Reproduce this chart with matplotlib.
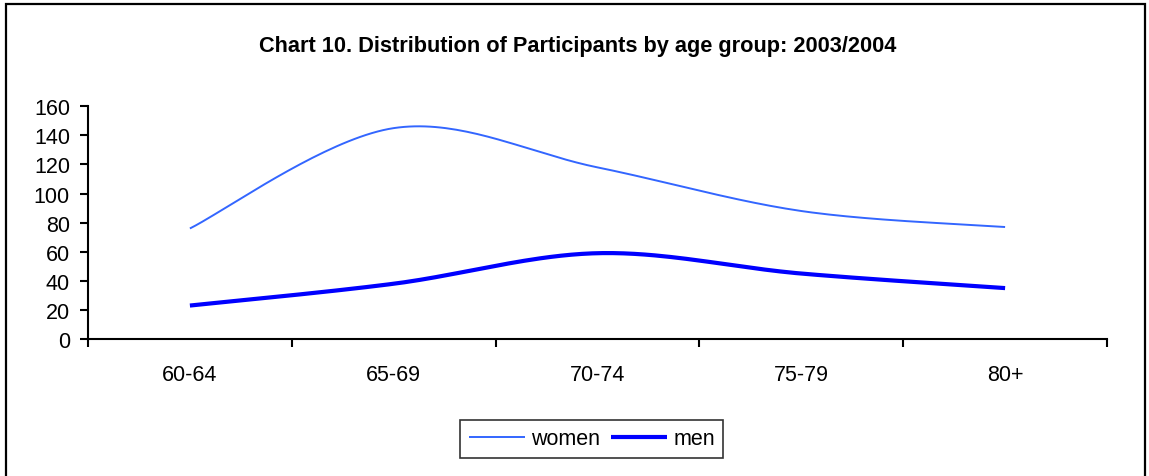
import numpy as np
import matplotlib.pyplot as plt
from matplotlib.patches import Rectangle

plt.rcParams['font.family'] = ['Liberation Sans', 'DejaVu Sans']

age_groups = ['60-64', '65-69', '70-74', '75-79', '80+']
women = [76, 145, 118, 88, 77]
men = [23, 38, 59, 45, 35]


def smooth(xs, ys, n=40):
    # Excel-style smoothed line: cubic bezier, control points from neighbours
    xs = np.asarray(xs, float)
    ys = np.asarray(ys, float)
    px = np.concatenate([[xs[0]], xs, [xs[-1]]])
    py = np.concatenate([[ys[0]], ys, [ys[-1]]])
    out_x, out_y = [], []
    t = np.linspace(0, 1, n)
    for i in range(len(xs) - 1):
        p0 = np.array([px[i + 1], py[i + 1]])
        p3 = np.array([px[i + 2], py[i + 2]])
        c1 = p0 + (np.array([px[i + 2], py[i + 2]]) - np.array([px[i], py[i]])) / 6
        c2 = p3 - (np.array([px[i + 3], py[i + 3]]) - np.array([px[i + 1], py[i + 1]])) / 6
        b = ((1 - t) ** 3)[:, None] * p0 + (3 * (1 - t) ** 2 * t)[:, None] * c1 \
            + (3 * (1 - t) * t ** 2)[:, None] * c2 + (t ** 3)[:, None] * p3
        out_x.extend(b[:, 0])
        out_y.extend(b[:, 1])
    return out_x, out_y


fig = plt.figure(figsize=(11.49, 4.77), dpi=100)
ax = fig.add_axes([88 / 1149, 1 - 340 / 477, (1107 - 88) / 1149, (340 - 107.3) / 477])

x = np.arange(len(age_groups)) + 0.5
wx, wy = smooth(x, women)
mx, my = smooth(x, men)
ax.plot(wx, wy, color='#3366ff', lw=1.4, label='women', solid_capstyle='butt')
ax.plot(mx, my, color='#0000ff', lw=3.0, label='men', solid_capstyle='butt')

ax.set_xlim(0, len(age_groups))
ax.set_ylim(0, 160)
ax.set_yticks(range(0, 161, 20))
ax.set_xticks(range(len(age_groups) + 1))
ax.set_xticklabels([])
ax.set_xticks(x, minor=True)
ax.set_xticklabels(age_groups, minor=True)
ax.tick_params(axis='x', which='minor', length=0, pad=18, labelsize=15.5)
ax.tick_params(axis='x', which='major', length=6, width=1.5, direction='out')
ax.tick_params(axis='y', length=6, width=1.5, pad=7, labelsize=15.5)
for s in ['top', 'right']:
    ax.spines[s].set_visible(False)
for s in ['left', 'bottom']:
    ax.spines[s].set_linewidth(1.5)

fig.text(0.503, 0.903, 'Chart 10. Distribution of Participants by age group: 2003/2004',
         ha='center', va='center', fontsize=15.7, fontweight='bold')

leg = fig.legend(loc='center', bbox_to_anchor=(0.515, 0.0776), ncol=2, frameon=True,
                 fancybox=False, edgecolor='black', fontsize=15.5, handlelength=2.6,
                 handletextpad=0.3, columnspacing=0.5, borderpad=0.38)
leg.get_frame().set_linewidth(1.2)

fig.patches.append(Rectangle((6 / 1149, -0.1), (1145 - 6) / 1149, 1.1 - 5 / 477,
                             transform=fig.transFigure, fill=False, edgecolor='black', lw=1.6))

fig.savefig('out.png', dpi=100)
